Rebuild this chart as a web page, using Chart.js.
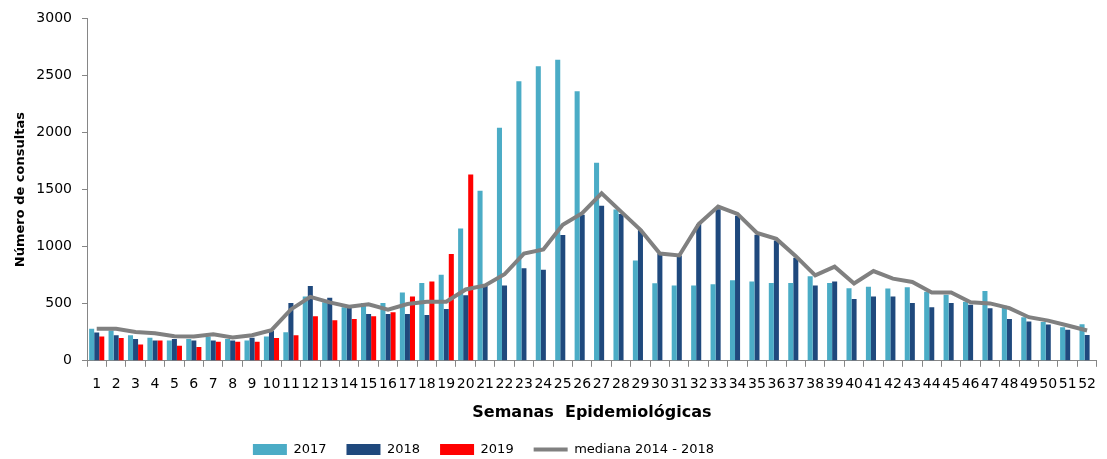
<!DOCTYPE html>
<html>
<head>
<meta charset="utf-8">
<script src="https://cdn.jsdelivr.net/npm/chart.js@4.4.1/dist/chart.umd.min.js"></script>
<style>
  html, body { margin: 0; padding: 0; background: #ffffff; }
  #wrap { width: 1107px; height: 459px; position: relative; }
</style>
</head>
<body>
<div id="wrap"><canvas id="c" width="1107" height="459"></canvas></div>
<script>
const weeks = Array.from({length: 52}, (_, i) => String(i + 1));

const cases2017 = [281, 266, 224, 201, 178, 190, 212, 190, 178, 212, 250, 564, 512, 469, 506, 506, 599, 682, 755, 1160,
  1490, 2042, 2450, 2580, 2638, 2361, 1736, 1325, 879, 680, 660, 660, 671, 706, 694, 682, 682, 740, 682, 636,
  648, 634, 645, 604, 578, 517, 611, 483, 382, 339, 295, 321];

const cases2018 = [247, 224, 190, 178, 190, 178, 178, 178, 201, 262, 506, 656, 552, 462, 410, 410, 410, 402, 454, 575,
  656, 660, 810, 798, 1102, 1279, 1359, 1287, 1148, 940, 923, 1198, 1328, 1270, 1105, 1053, 903, 660, 694, 541,
  564, 564, 506, 469, 506, 491, 460, 367, 344, 318, 272, 226];

const cases2019 = [212, 200, 143, 178, 132, 121, 166, 166, 166, 200, 224, 391, 356, 367, 391, 425, 564, 694, 935, 1632,
  null, null, null, null, null, null, null, null, null, null, null, null, null, null, null, null, null, null, null, null,
  null, null, null, null, null, null, null, null, null, null, null, null];

const median2014_2018 = [281, 281, 253, 242, 215, 212, 232, 205, 224, 268, 450, 560, 512, 473, 495, 448, 497, 517, 517, 625,
  660, 758, 940, 975, 1192, 1293, 1467, 1307, 1148, 940, 923, 1198, 1351, 1287, 1120, 1068, 917, 749, 825, 677,
  786, 720, 691, 599, 599, 512, 503, 462, 382, 352, 309, 266];

const yTicks = [0, 500, 1000, 1500, 2000, 2500, 3000];

const legendPlugin = {
  id: 'legendTweak',
  afterInit(chart) {
    const lg = chart.legend;
    if (lg && !lg._patched) {
      const orig = lg.fit.bind(lg);
      lg.fit = function () { orig(); this.height = 36; };
      lg._patched = true;
    }
  },
  afterLayout(chart) {
    const lg = chart.legend;
    if (lg) { lg.right = lg.right - 140; }
  }
};

const axisGray = '#868686';

new Chart(document.getElementById('c'), {
  type: 'bar',
  data: {
    labels: weeks,
    datasets: [
      { label: '2017', data: cases2017, backgroundColor: '#4BACC6', order: 1, pointStyle: 'rect' },
      { label: '2018', data: cases2018, backgroundColor: '#1F497D', order: 1, pointStyle: 'rect' },
      { label: '2019', data: cases2019, backgroundColor: '#FF0000', order: 1, pointStyle: 'rect' },
      { label: 'mediana 2014 - 2018', type: 'line', data: median2014_2018, borderColor: '#808080',
        backgroundColor: '#808080', borderWidth: 4, pointRadius: 0, tension: 0, order: 0, pointStyle: 'line' }
    ]
  },
  options: {
    responsive: false,
    animation: false,
    devicePixelRatio: 1,
    layout: { padding: { top: 16, right: 0, left: 0, bottom: 0 } },
    datasets: { bar: { categoryPercentage: 0.78, barPercentage: 1.0 } },
    plugins: {
      tooltip: { enabled: false },
      legend: {
        position: 'bottom',
        labels: {
          usePointStyle: true,
          pointStyleWidth: 34,
          boxHeight: 11,
          padding: 20,
          color: '#000000',
          font: { family: 'DejaVu Sans', size: 13 },
          sort: (a, b) => a.datasetIndex - b.datasetIndex
        }
      }
    },
    scales: {
      x: {
        offset: true,
        grid: { display: true, drawOnChartArea: false, drawTicks: true, tickLength: 6, color: axisGray, offset: true },
        border: { display: true, color: axisGray, width: 1 },
        ticks: { autoSkip: false, maxRotation: 0, minRotation: 0, padding: 11, color: '#000000',
                 font: { family: 'DejaVu Sans', size: 14, lineHeight: 1.0 } },
        title: { display: true, text: 'Semanas  Epidemiológicas', color: '#000000',
                 font: { family: 'DejaVu Sans', size: 16, weight: 'bold' }, padding: { top: 0, bottom: 1 } }
      },
      y: {
        min: 0, max: 3000,
        afterBuildTicks: (scale) => { scale.ticks = yTicks.map(v => ({ value: v })); },
        afterFit: (scale) => { scale.width = 87; },
        grid: { display: true, drawOnChartArea: false, drawTicks: true, tickLength: 5, color: axisGray },
        border: { display: true, color: axisGray, width: 1 },
        ticks: { padding: 10, color: '#000000', font: { family: 'DejaVu Sans', size: 14 },
                 callback: (v) => String(v) },
        title: { display: true, text: 'Número de consultas', color: '#000000',
                 font: { family: 'DejaVu Sans', size: 13, weight: 'bold' }, padding: { top: 13, bottom: 0 } }
      }
    }
  },
  plugins: [legendPlugin]
});
</script>
</body>
</html>
